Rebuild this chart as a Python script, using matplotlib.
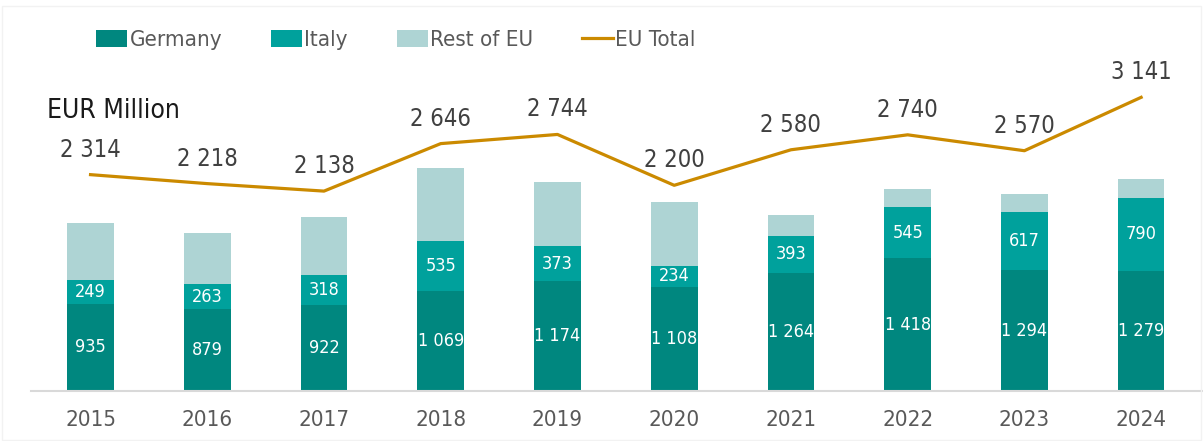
import numpy as np
import matplotlib.pyplot as plt
from matplotlib.patches import Rectangle

years = ['2015', '2016', '2017', '2018', '2019', '2020', '2021', '2022', '2023', '2024']
germany = [935, 879, 922, 1069, 1174, 1108, 1264, 1418, 1294, 1279]
italy = [249, 263, 318, 535, 373, 234, 393, 545, 617, 790]
rest_eu = [610, 545, 624, 784, 685, 679, 229, 194, 193, 195]
eu_total = [2314, 2218, 2138, 2646, 2744, 2200, 2580, 2740, 2570, 3141]

c_ger = '#00877F'
c_ita = '#00A19C'
c_rest = '#AED4D4'
c_line = '#CB8A00'

plt.rcParams['font.family'] = ['DejaVu Sans']
plt.rcParams['font.stretch'] = 'condensed'

def fmt(v):
	return f"{v:,}".replace(',', ' ')

fig = plt.figure(figsize=(12.03, 4.41), dpi=100)
ax = fig.add_axes([31/1203, 50/441, 1 - 31/1203, 391/441])

x = np.arange(len(years))
w = 0.4
b1 = ax.bar(x, germany, width=w, color=c_ger, label='Germany')
b2 = ax.bar(x, italy, width=w, bottom=germany, color=c_ita, label='Italy')
bottom2 = np.array(germany) + np.array(italy)
b3 = ax.bar(x, rest_eu, width=w, bottom=bottom2, color=c_rest, label='Rest of EU')
ln, = ax.plot(x, eu_total, color=c_line, lw=2.3, label='EU Total')

ax.bar_label(b1, labels=[fmt(v) for v in germany], label_type='center', color='white', fontsize=13)
ax.bar_label(b2, labels=[fmt(v) for v in italy], label_type='center', color='white', fontsize=13)

for i, v in enumerate(eu_total):
	ax.annotate(fmt(v), (x[i], v), xytext=(0, 18), textcoords='offset points',
				ha='center', va='center', fontsize=17, color='#404040')

ax.set_xlim(-0.51, 9.53)
ax.set_ylim(0, 4182)
ax.set_xticks(x)
ax.set_xticklabels(years, fontsize=16, color='#595959')
ax.tick_params(axis='x', length=0, pad=14)
ax.set_yticks([])
for s in ['top', 'right', 'left']:
	ax.spines[s].set_visible(False)
ax.spines['bottom'].set_color('#d9d9d9')
ax.spines['bottom'].set_linewidth(1.5)

fig.legend([b1, b2, b3, ln], ['Germany', 'Italy', 'Rest of EU', 'EU Total'],
		   loc='center', bbox_to_anchor=(396/1203, 1 - 40/441), ncol=4, frameon=False,
		   fontsize=16, handlelength=1.4, handleheight=0.8, handletextpad=0.1,
		   columnspacing=2.2, labelcolor='#595959')

fig.text(47/1203, 1 - 111/441, 'EUR Million', fontsize=19, va='center', ha='left', color='#1a1a1a')

fig.patches.append(Rectangle((0.002, 0.002), 0.996, 0.985, transform=fig.transFigure,
							 fill=False, edgecolor='#f2f2f2', lw=1))

fig.savefig('out.png', dpi=100)
